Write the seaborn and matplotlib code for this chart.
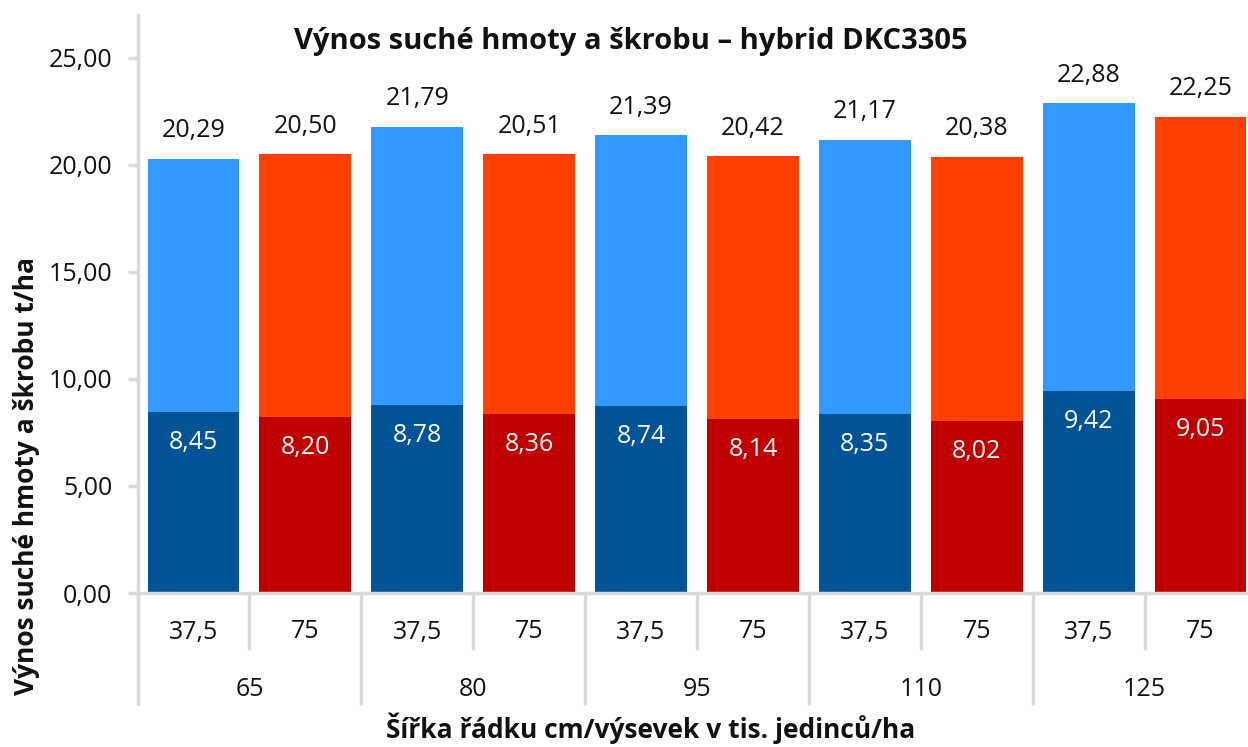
import matplotlib
matplotlib.use("Agg")
import matplotlib.pyplot as plt
import matplotlib.transforms as mtransforms
import seaborn as sns
import pandas as pd

# ---- data ----
density = ["65", "80", "95", "110", "125"]
spacing = ["37,5", "75"]
dry_matter = [20.29, 20.50, 21.79, 20.51, 21.39, 20.42, 21.17, 20.38, 22.88, 22.25]
starch = [8.45, 8.20, 8.78, 8.36, 8.74, 8.14, 8.35, 8.02, 9.42, 9.05]
y_ticks = [0, 5, 10, 15, 20, 25]

title = "Výnos suché hmoty a škrobu – hybrid DKC3305"
ylabel = "Výnos suché hmoty a škrobu t/ha"
xlabel = "Šířka řádku cm/výsevek v tis. jedinců/ha"

rows = []
for i, d in enumerate(density):
    for j, s in enumerate(spacing):
        k = i * 2 + j
        rows.append({"cat": f"{d}|{s}", "density": d, "spacing": s,
                     "total": dry_matter[k], "starch": starch[k]})
df = pd.DataFrame(rows)
order = list(df["cat"])

sns.set_theme(style="white")
plt.rcParams["font.family"] = ["Open Sans", "DejaVu Sans"]

fig = plt.figure(figsize=(12.48, 7.47), dpi=100)
ax = fig.add_axes([137.5 / 1248, 1 - 593 / 747, (1256.5 - 137.5) / 1248, (593 - 15) / 747])

light = {"37,5": "#3399FF", "75": "#FF4000"}
dark = {"37,5": "#005496", "75": "#C00000"}

sns.barplot(data=df, x="cat", y="total", hue="spacing", order=order,
            palette=light, dodge=False, width=0.82, saturation=1,
            legend=False, ax=ax, edgecolor="none")
sns.barplot(data=df, x="cat", y="starch", hue="spacing", order=order,
            palette=dark, dodge=False, width=0.82, saturation=1,
            legend=False, ax=ax, edgecolor="none")

ax.set_xlim(-0.5, len(order) - 0.5)
ax.set_ylim(0, 27)
ax.set_yticks(y_ticks)
ax.set_yticklabels([f"{v:.2f}".replace(".", ",") for v in y_ticks], fontsize=18, color="#111111")
ax.set_xticks([])
ax.set_xlabel("")
ax.set_ylabel("")
ax.tick_params(axis="y", which="both", left=True, length=7, width=2.5, color="#D9D9D9", pad=11)

for side in ["top", "right"]:
    ax.spines[side].set_visible(False)
for side in ["left", "bottom"]:
    ax.spines[side].set_color("#D9D9D9")
    ax.spines[side].set_linewidth(2.5)

fmt = lambda v: f"{v:.2f}".replace(".", ",")
for k in range(len(order)):
    ax.text(k, dry_matter[k] + 1.3, fmt(dry_matter[k]), ha="center", va="center",
            fontsize=18, color="#111111")
    ax.text(k, starch[k] - 1.42, fmt(starch[k]), ha="center", va="center",
            fontsize=18, color="white")

# multi-level category axis
tr = mtransforms.blended_transform_factory(ax.transData, fig.transFigure)
y0 = 1 - 593 / 747
y_short = 1 - 650 / 747
y_long = 1 - 705 / 747
for k in range(len(order) + 1):
    x = k - 0.5
    ybot = y_long if k % 2 == 0 else y_short
    ax.plot([x, x], [y0, ybot], transform=tr, color="#D9D9D9", lw=2.5,
            clip_on=False, solid_capstyle="butt")
for k in range(len(order)):
    ax.text(k, 1 - 632 / 747, df["spacing"][k], transform=tr, ha="center",
            va="center", fontsize=18, color="#111111")
for i, d in enumerate(density):
    ax.text(2 * i + 0.5, 1 - 689 / 747, d, transform=tr, ha="center",
            va="center", fontsize=18, color="#111111")

fig.text(631 / 1248, 1 - 42 / 747, title, ha="center", va="center",
         fontsize=21, fontweight="bold", color="#111111")
fig.text(27 / 1248, 1 - 476 / 747, ylabel, ha="center", va="center",
         rotation=90, fontsize=19, fontweight="bold", color="#111111")
fig.text(651 / 1248, 1 - 728 / 747, xlabel, ha="center", va="center",
         fontsize=19, fontweight="bold", color="#111111")

fig.savefig("out.png", dpi=100)
